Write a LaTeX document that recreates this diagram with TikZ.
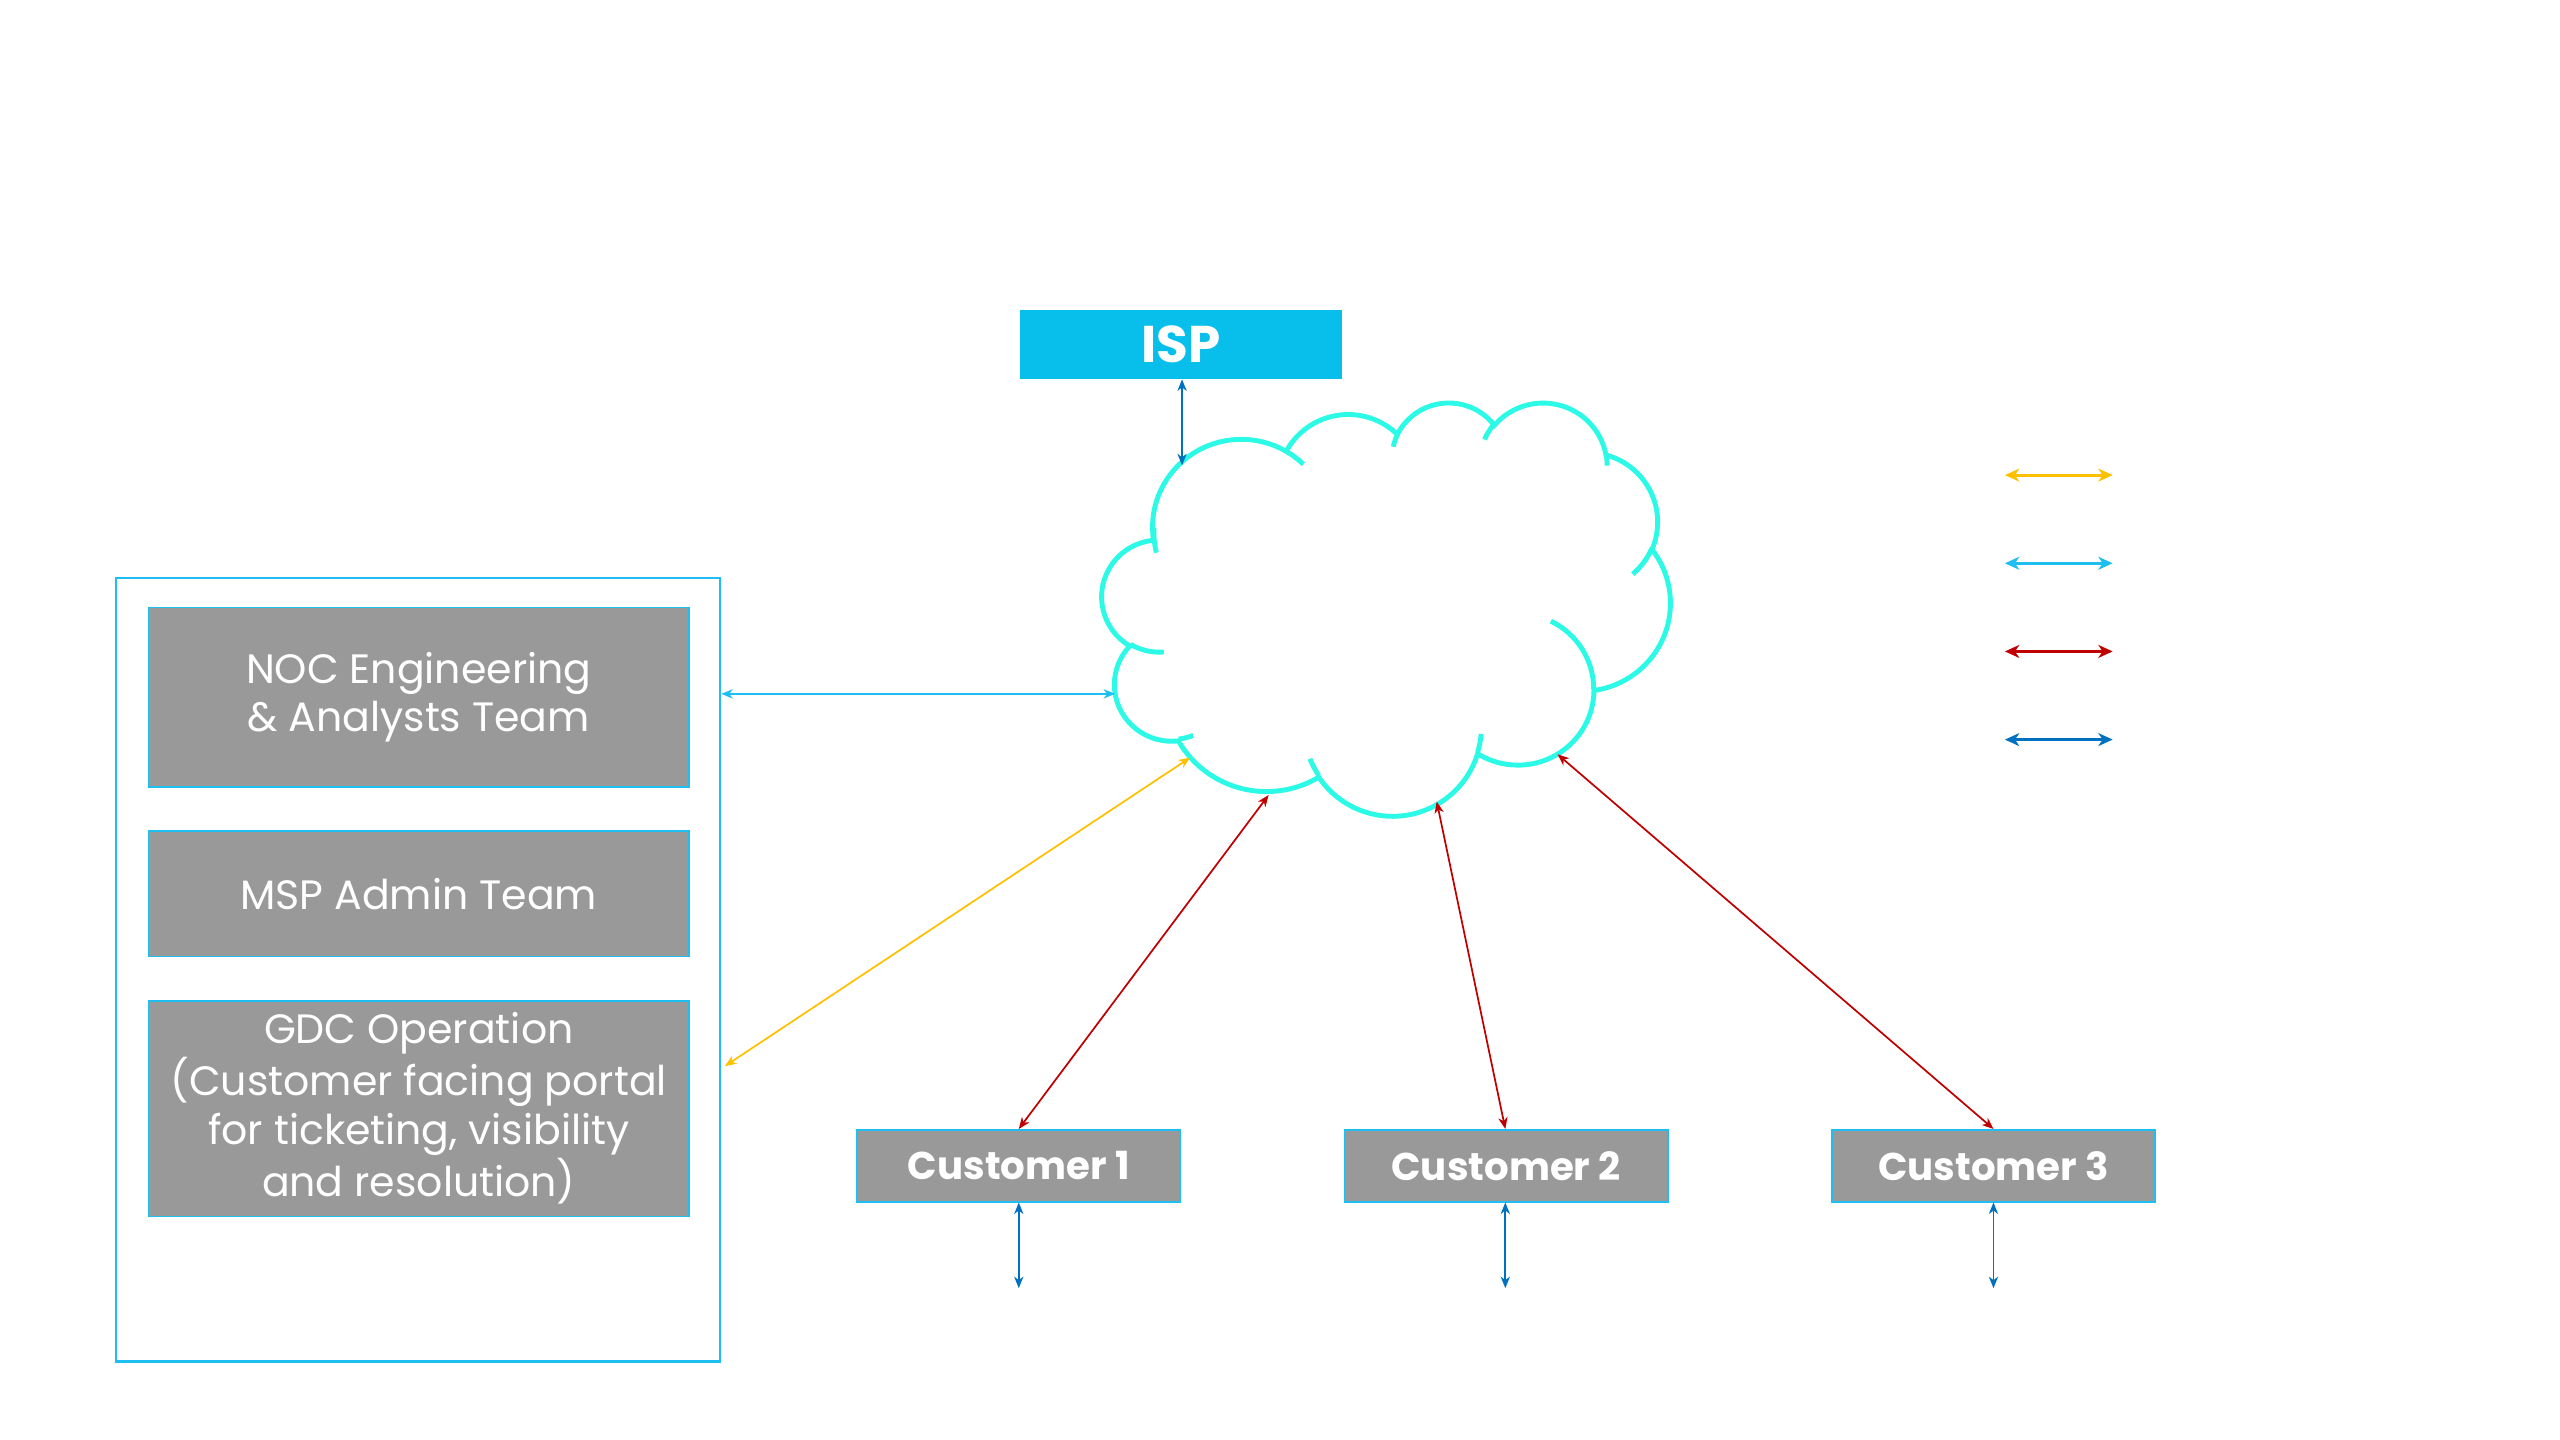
\documentclass[tikz,border=0pt]{standalone}
\usepackage{fontspec}
\setmainfont{Poppins}
\usetikzlibrary{arrows.meta}
\definecolor{ispblue}{RGB}{8,190,235}
\definecolor{boxgray}{RGB}{153,153,153}
\definecolor{linecyan}{RGB}{30,190,240}
\definecolor{cloudaqua}{RGB}{43,250,230}
\definecolor{linkyellow}{RGB}{255,192,0}
\definecolor{linkred}{RGB}{192,0,0}
\definecolor{linkblue}{RGB}{0,112,192}
\tikzset{
  >={Stealth[length=4pt,width=3.2pt,inset=1.2pt]},
  team/.style={draw=linecyan, line width=0.5pt, fill=boxgray, text=white, minimum width=6.62cm, inner sep=0pt, align=center, font=\fontsize{14.3}{17}\selectfont},
  client/.style={draw=linecyan, line width=0.6pt, fill=boxgray, text=white, minimum width=3.96cm, minimum height=0.88cm, inner sep=0pt, font=\fontsize{13.5}{16}\selectfont\bfseries},
  link/.style={<->, line width=0.6pt},
  legendarrow/.style={<->, line width=1.1pt, >={Stealth[length=5pt,width=4.5pt,inset=1.5pt]}},
  cloudline/.style={draw=cloudaqua, line width=1.7pt},
}
% one lobe of the cloud: x radius, y radius, start angle, sweep
\newcommand\cloudarc[4]{%
  arc[x radius=#1, y radius=#2,
      start angle={atan2(#1*sin(#3),#2*cos(#3))},
      delta angle={Mod(atan2(#1*sin(#3+#4),#2*cos(#3+#4))-atan2(#1*sin(#3),#2*cos(#3)),360)}]}

\begin{document}
\begin{tikzpicture}[x=0.02cm, y=-0.02cm]
  \useasboundingbox (0,0) rectangle (1568,882);

  % operations side
  \node[draw=linecyan, line width=0.9pt, minimum width=7.4cm, minimum height=9.6cm, inner sep=0pt] (ops) at (256,594) {};
  \node[team, minimum height=2.2cm] (noc) at (256.5,427) {NOC Engineering\\\& Analysts Team};
  \node[team, minimum height=1.54cm] (msp) at (256.5,547.5) {MSP Admin Team};
  \node[team, minimum height=2.64cm] (gdc) at (256.5,679) {GDC Operation\\(Customer facing portal\\for ticketing, visibility\\and resolution)};

  % provider and customers
  \node[fill=ispblue, text=white, minimum width=3.94cm, minimum height=0.84cm, inner sep=0pt, font=\fontsize{18}{20}\selectfont\bfseries] (isp) at (723.5,211) {ISP};
  \node[client] (cust1) at (624,714) {Customer 1};
  \node[client] (cust2) at (922.5,714) {Customer 2};
  \node[client] (cust3) at (1221,714) {Customer 3};

  % cloud
  \begin{scope}[shift={(675,246)}, x=0.016111cm, y=-0.011713cm]
    \draw[cloudline] (39,143.7)
      \cloudarc{67.53}{91.90}{-190.4875}{123.7805}
      \cloudarc{53.33}{72.67}{-144.1024}{89.9452}
      \cloudarc{43.65}{59.45}{-145.8079}{99.7230}
      \cloudarc{48.57}{65.95}{-130.9861}{117.2417}
      \cloudarc{53.33}{72.73}{-78.7089}{109.0269}
      \cloudarc{67.75}{92.20}{-46.2673}{130.2690}
      \cloudarc{57.85}{78.67}{0.6250}{114.0333}
      \cloudarc{67.52}{92.15}{22.4516}{115.1726}
      \cloudarc{77.20}{105.43}{66.2426}{75.7110}
      \cloudarc{43.60}{59.18}{-274.9421}{146.7356}
      \cloudarc{43.45}{59.45}{-246.8285}{152.5189} -- cycle;
    \draw[cloudline]
      (46.93,261.77) \cloudarc{43.45}{59.45}{86.7420}{26.4295}
      (69.28,348.99) \cloudarc{43.60}{59.18}{73.6105}{11.4475}
      (164.78,390.90) \cloudarc{67.52}{92.15}{137.6242}{14.0811}
      (288.27,347.51) \cloudarc{67.52}{92.15}{6.4533}{15.9984}
      (341.29,229.54) \cloudarc{57.85}{78.67}{-70.2924}{70.9174}
      (417.98,153.54) \cloudarc{53.33}{72.73}{30.3180}{27.7515}
      (383.24,54.26) \cloudarc{48.57}{65.95}{-13.7443}{14.8589}
      (290.78,39.52) \cloudarc{48.57}{65.95}{-149.1815}{18.1954}
      (221.41,47.20) \cloudarc{43.65}{59.45}{-163.4943}{17.6864}
      (140.00,51.92) \cloudarc{67.53}{91.90}{-66.7070}{12.3194}
      (41.27,157.89) \cloudarc{67.53}{91.90}{162.0448}{21.7353};
  \end{scope}
  \coordinate (cloud-isp) at (724,285);
  \coordinate (cloud-noc) at (683,425);
  \coordinate (cloud-gdc) at (729,464);
  \coordinate (cloud-c1) at (777,487);
  \coordinate (cloud-c2) at (880,491);
  \coordinate (cloud-c3) at (954,462);
  \coordinate (ops-gdc) at (444,653);

  % links
  \draw[link, linkblue] (isp.south -| cloud-isp) -- (cloud-isp);
  \draw[link, linecyan] (ops.east |- cloud-noc) -- (cloud-noc);
  \draw[link, linkyellow] (ops-gdc) -- (cloud-gdc);
  \draw[link, linkred] (cust1.north) -- (cloud-c1);
  \draw[link, linkred] (cust2.north -| 922,0) -- (cloud-c2);
  \draw[link, linkred] (cust3.north) -- (cloud-c3);
  \foreach \c/\x in {cust1/624, cust2/922, cust3/1221} {
    \coordinate (\c-end) at (\x,789);
    \draw[link, linkblue] (\c.south -| \c-end) -- (\c-end);
  }

  % legend
  \foreach \col/\y [count=\i] in {linkyellow/291, linecyan/345, linkred/399, linkblue/453} {
    \coordinate (key\i-l) at (1228,\y);
    \coordinate (key\i-r) at (1294,\y);
    \draw[legendarrow, \col] (key\i-l) -- (key\i-r);
  }
\end{tikzpicture}
\end{document}
